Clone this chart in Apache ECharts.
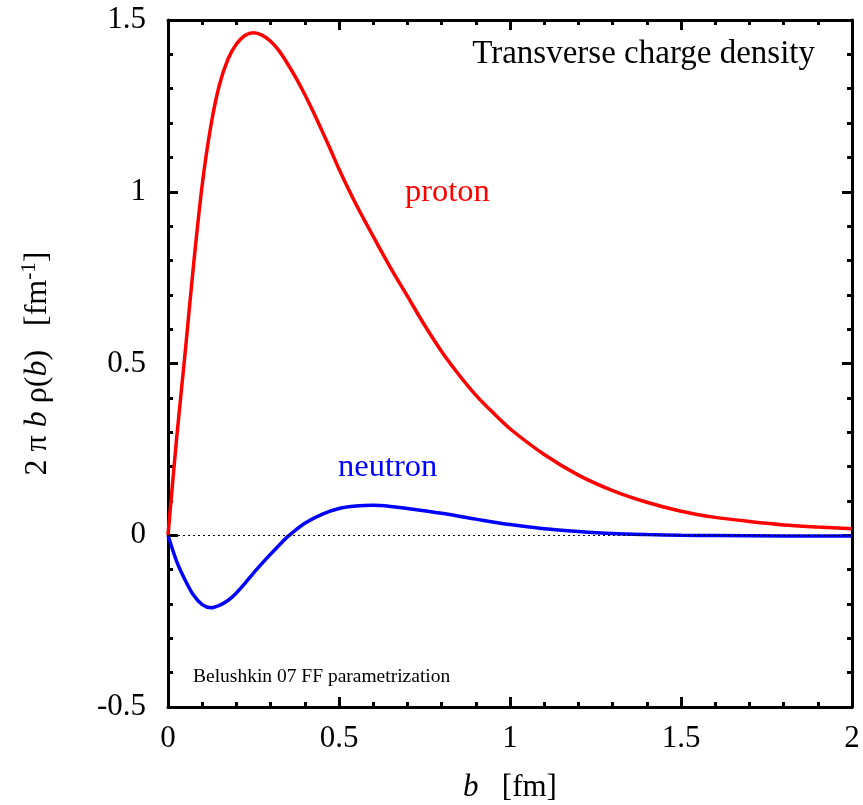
<!DOCTYPE html>
<html>
<head>
<meta charset="utf-8">
<script src="https://cdn.jsdelivr.net/npm/echarts@6/dist/echarts.min.js"></script>
<style>
  html, body { margin: 0; padding: 0; background: #fff; }
  #chart { width: 863px; height: 805px; }
</style>
</head>
<body>
<div id="chart"></div>
<script>
// b [fm] and 2 pi b rho(b) [fm^-1]
const protonB = [0, 0.025, 0.05, 0.075, 0.1, 0.125, 0.15, 0.175, 0.2, 0.225, 0.25, 0.275, 0.3, 0.325, 0.35, 0.375, 0.4, 0.425, 0.45, 0.475, 0.5, 0.525, 0.55, 0.575, 0.6, 0.65, 0.7, 0.75, 0.8, 0.85, 0.9, 0.95, 1.0, 1.1, 1.2, 1.3, 1.4, 1.5, 1.6, 1.7, 1.8, 1.9, 2.0]
const protonV = [0, 0.28, 0.53, 0.79, 1.02, 1.19, 1.31, 1.385, 1.43, 1.455, 1.463, 1.456, 1.438, 1.41, 1.372, 1.33, 1.283, 1.232, 1.178, 1.123, 1.066, 1.013, 0.963, 0.916, 0.87, 0.78, 0.696, 0.612, 0.535, 0.468, 0.408, 0.357, 0.31, 0.235, 0.175, 0.13, 0.096, 0.07, 0.052, 0.04, 0.03, 0.024, 0.019]

const neutronB = [0, 0.025, 0.05, 0.075, 0.1, 0.125, 0.15, 0.175, 0.2, 0.225, 0.25, 0.275, 0.3, 0.325, 0.35, 0.4, 0.45, 0.5, 0.55, 0.6, 0.65, 0.7, 0.8, 0.9, 1.0, 1.1, 1.2, 1.3, 1.4, 1.5, 1.6, 1.8, 2.0]
const neutronV = [0, -0.075, -0.13, -0.175, -0.202, -0.211, -0.204, -0.19, -0.168, -0.14, -0.11, -0.082, -0.055, -0.029, -0.004, 0.035, 0.061, 0.078, 0.085, 0.087, 0.084, 0.078, 0.064, 0.047, 0.031, 0.019, 0.011, 0.005, 0.002, 0.0, -0.001, -0.002, -0.002]

const xTicks = { min: 0, max: 2, interval: 0.5 }
const yTicks = { min: -0.5, max: 1.5, interval: 0.5 }

const serif = 'Liberation Serif'
const zip = (xs, ys) => xs.map((x, i) => [x, ys[i]])

const axisBase = {
  type: 'value',
  axisLine: { show: true, onZero: false, lineStyle: { color: '#000', width: 3 } },
  axisTick: { show: true, inside: true, length: 10, lineStyle: { color: '#000', width: 3 } },
  minorTick: { show: true, splitNumber: 5, length: 5, lineStyle: { color: '#000', width: 3 } },
  splitLine: { show: false },
  axisLabel: { fontFamily: serif, fontSize: 31, color: '#000' }
}

const chart = echarts.init(document.getElementById('chart'))
chart.setOption({
  animation: false,
  backgroundColor: '#fff',
  grid: { left: 168, right: 11, top: 20, bottom: 98, containLabel: false, outerBoundsMode: 'none' },
  xAxis: [
    Object.assign({}, axisBase, xTicks, {
      position: 'bottom',
      axisLabel: Object.assign({}, axisBase.axisLabel, { margin: 16 }),
      name: '{i|b}   [fm]',
      nameLocation: 'middle',
      nameGap: 65,
      nameTextStyle: {
        fontFamily: serif, fontSize: 31, color: '#000',
        rich: { i: { fontFamily: serif, fontSize: 31, fontStyle: 'italic', color: '#000' } }
      }
    }),
    Object.assign({}, axisBase, xTicks, { position: 'top', axisLabel: { show: false } })
  ],
  yAxis: [
    Object.assign({}, axisBase, yTicks, {
      position: 'left',
      axisLabel: Object.assign({}, axisBase.axisLabel, { margin: 22 }),
      name: '2 π {i|b} ρ({i|b})   [fm{s|-1}]',
      nameLocation: 'middle',
      nameGap: 112,
      nameTextStyle: {
        fontFamily: serif, fontSize: 32, color: '#000',
        rich: {
          i: { fontFamily: serif, fontSize: 32, fontStyle: 'italic', color: '#000' },
          s: { fontFamily: serif, fontSize: 21, color: '#000', padding: [0, 0, 16, 0] }
        }
      }
    }),
    Object.assign({}, axisBase, yTicks, { position: 'right', axisLabel: { show: false } })
  ],
  graphic: [
    { type: 'text', right: 48, top: 38, style: { text: 'Transverse charge density', font: '33px "Liberation Serif"', fill: '#000' } },
    { type: 'text', left: 405, top: 176, style: { text: 'proton', font: '32.5px "Liberation Serif"', fill: '#ff0000' } },
    { type: 'text', left: 338, top: 451, style: { text: 'neutron', font: '32.5px "Liberation Serif"', fill: '#0000ff' } },
    { type: 'text', left: 193, top: 667, style: { text: 'Belushkin 07 FF parametrization', font: '19.5px "Liberation Serif"', fill: '#000' } }
  ],
  series: [
    {
      name: 'proton',
      type: 'line',
      data: zip(protonB, protonV),
      smooth: 0.3,
      showSymbol: false,
      lineStyle: { color: '#ff0000', width: 3.5 },
      markLine: {
        silent: true,
        symbol: 'none',
        label: { show: false },
        lineStyle: { color: '#000', width: 1, type: [2, 3] },
        data: [{ yAxis: 0 }]
      },
      z: 2
    },
    {
      name: 'neutron',
      type: 'line',
      data: zip(neutronB, neutronV),
      smooth: 0.3,
      showSymbol: false,
      lineStyle: { color: '#0000ff', width: 3.5 },
      z: 3
    }
  ]
})
</script>
</body>
</html>
